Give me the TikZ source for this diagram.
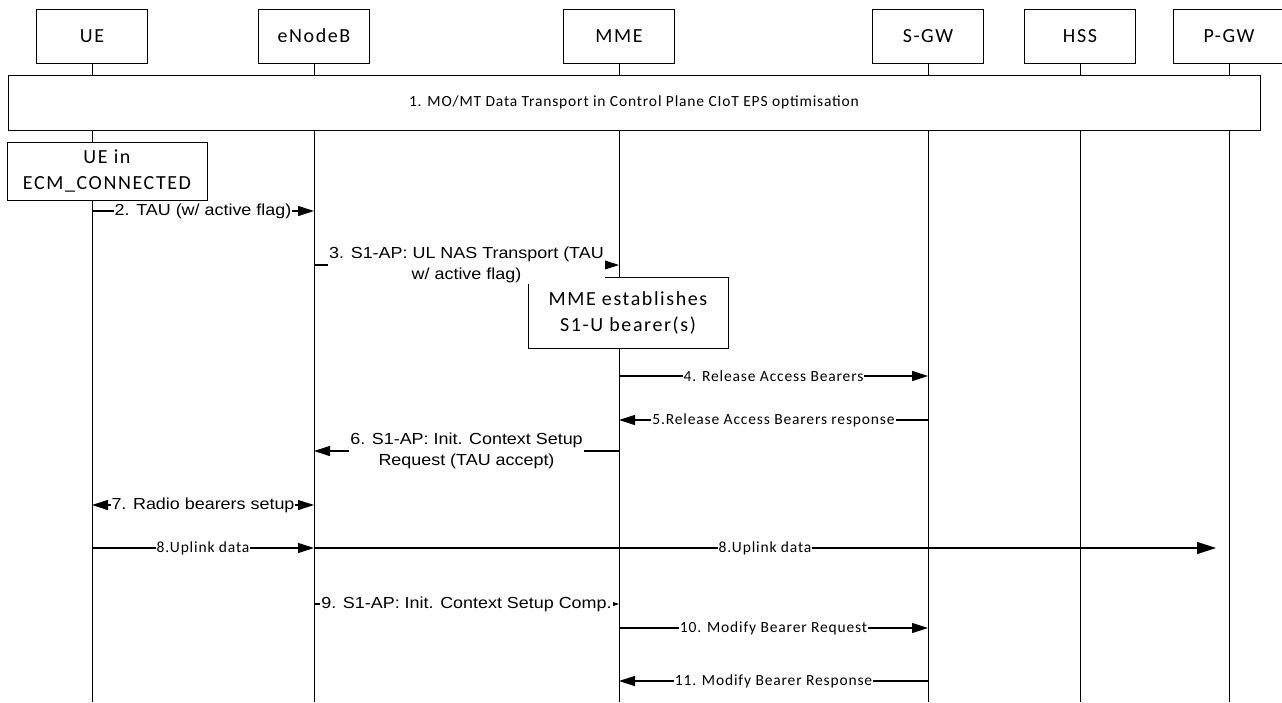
\documentclass[tikz,border=0pt]{standalone}
\usepackage{fontspec}
\setmainfont{Carlito}
\newfontfamily\bigf[LetterSpace=8]{Carlito}
\newfontfamily\smallf[LetterSpace=5.5]{Carlito}
\newfontfamily\arialf[FakeStretch=1.12]{Liberation Sans}
\usetikzlibrary{arrows.meta,positioning}

\begin{document}
\begin{tikzpicture}[x=1pt,y=-1pt,line width=1pt,
  ent/.style={draw,fill=white,minimum width=111pt,minimum height=54pt,inner sep=0pt,font=\bigf\fontsize{20}{26}\selectfont},
  note/.style={draw,fill=white,align=center,inner sep=0pt,font=\bigf\fontsize{20}{26}\selectfont},
  life/.style={line width=1pt},
  arr/.style={-{Triangle[length=16pt,width=10pt]},line width=1.1pt},
  msg/.style={fill=white,inner sep=1pt,align=center,font=\arialf\fontsize{16}{20.5}\selectfont},
  cmsg/.style={fill=white,inner sep=1pt,font=\smallf\fontsize{15.5}{19}\selectfont}]
\useasboundingbox (0,0) rectangle (1282,702);
\node[ent] (ue) at (92,36) {UE};
\node[ent] (enb) at (314,36) {eNodeB};
\node[ent] (mme) at (619,36) {MME};
\node[ent] (sgw) at (928,36) {S-GW};
\node[ent] (hss) at (1080,36) {HSS};
\node[ent] (pgw) at (1229,36) {P-GW};
\coordinate (bot) at (0,702);
\foreach \e in {ue,enb,mme,sgw,hss,pgw} \draw[life] (\e.south) -- (\e.south|-bot);
\node[draw,fill=white,minimum width=1252pt,minimum height=55pt,font=\smallf\fontsize{15.5}{19}\selectfont] (cp) at (634,102.5) {1. MO/MT Data Transport in Control Plane CIoT EPS optimisation};
\node[note,minimum width=200pt,minimum height=58pt] (uecm) at (107,171) {UE in\\ECM\_CONNECTED};
\node[note,minimum width=200pt,minimum height=71pt] (mmeb) at (628,312.5) {MME establishes\\S1-U bearer(s)};
\foreach \e/\y/\n in {ue/211/ue2,enb/211/enb2,enb/265/enb3,mme/265/mme3,mme/376/mme4,sgw/376/sgw4,
  sgw/420/sgw5,mme/420/mme5,mme/451/mme6,enb/451/enb6,ue/505/ue7,enb/505/enb7,ue/548/ue8,enb/548/enb8,
  enb/604/enb9,mme/604/mme9,mme/628/mme10,sgw/628/sgw10,sgw/681/sgw11,mme/681/mme11}
  \coordinate (\n) at (\e.south|-0,\y);
\coordinate (pgw8) at ([xshift=-13pt]pgw.south|-0,548);
\draw[arr] (ue2) -- node[msg] (t2) {2. TAU (w/ active flag)} (enb2);
\draw[arr] (enb3) -- node[msg] (t3) {3. S1-AP: UL NAS Transport (TAU\\w/ active flag)} (mme3);
\draw[arr] (mme4) -- node[cmsg] (t4) {4. Release Access Bearers} (sgw4);
\draw[arr] (sgw5) -- node[cmsg] (t5) {5.Release Access Bearers response} (mme5);
\draw[arr] (mme6) -- node[msg] (t6) {6. S1-AP: Init. Context Setup\\Request (TAU accept)} (enb6);
\draw[arr,{Triangle[length=16pt,width=10pt]}-{Triangle[length=16pt,width=10pt]}] (ue7) -- node[msg] (t7) {7. Radio bearers setup} (enb7);
\draw[arr] (ue8) -- node[cmsg] (t8a) {8.Uplink data} (enb8);
\draw[arr,-{Triangle[length=19pt,width=12pt]}] (enb8) -- node[cmsg] (t8b) {8.Uplink data} (pgw8);
\draw[arr,-{Triangle[length=9pt,width=6pt]}] (enb9) -- node[msg] (t9) {9. S1-AP: Init. Context Setup Comp.} (mme9);
\draw[arr] (mme10) -- node[cmsg] (t10) {10. Modify Bearer Request} (sgw10);
\draw[arr] (sgw11) -- node[cmsg] (t11) {11. Modify Bearer Response} (mme11);
\end{tikzpicture}
\end{document}
